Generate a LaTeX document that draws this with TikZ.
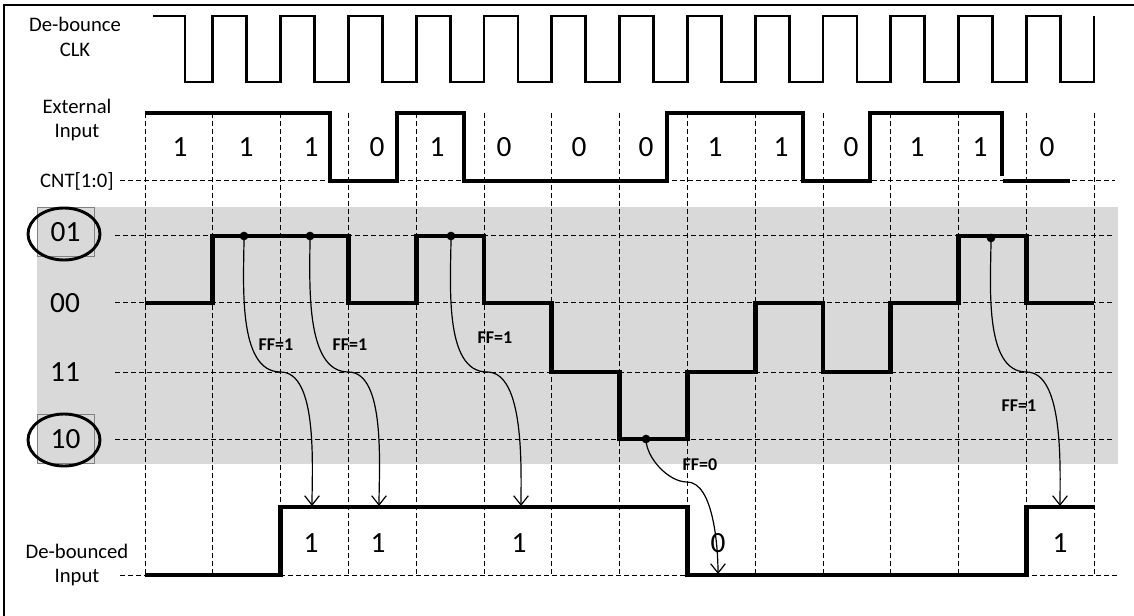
\documentclass[tikz,border=0pt]{standalone}
\usepackage{fontspec}
\setmainfont{Carlito}
\usetikzlibrary{arrows.meta}
\definecolor{bandgray}{HTML}{D9D9D9}
\begin{document}
\begin{tikzpicture}[x=0.75pt,y=-0.75pt,
        clk/.style = {line width=2.2pt},
        wave/.style = {line width=3.6pt},
        gridline/.style = {line width=0.75pt,dash pattern=on 3.5pt off 2.5pt},
        ffarrow/.style = {line width=0.9pt,-{Straight Barb[length=7pt,width=11pt]}},
        dot/.style = {circle,fill,inner sep=0pt,minimum size=6.5pt},
        lbl/.style = {font=\fontsize{15.5}{18.5}\selectfont,align=center},
        bit/.style = {font=\fontsize{22}{26}\selectfont},
        ff/.style = {font=\fontsize{13.5}{16}\selectfont\bfseries,inner sep=0pt},
        lvlbox/.style = {bit,draw=gray,line width=0.6pt,minimum width=42.75pt,minimum height=36.75pt},
        ring/.style = {line width=2.2pt}]
    \useasboundingbox (0,0) rectangle (1134,616);

    \fill[bandgray] (37,207) rectangle (1118,464);
    \draw[line width=1pt] (4,5) rectangle (1140,622);

    \foreach \i in {0,...,14}
        \draw[gridline] ({145+67.8*\i},113) -- ({145+67.8*\i},575);
    \draw[gridline] (120,181) -- (1115,181);
    \foreach \y in {236,303,372,439}
        \draw[gridline] (115,\y) -- (1112,\y);
    \draw[gridline] (120,575) -- (1117,575);

    \draw[clk] (153,16) -- (185,16) -- (185,82)
        \foreach \i in {1,...,13} {
            -- ({145+67.8*\i},82) -- ({145+67.8*\i},16)
            -- ({179+67.8*\i},16) -- ({179+67.8*\i},82)}
        -- (1094,82) -- (1094,16);

    \draw[wave] (145,113) -- (330,113) -- (330,181) -- (397,181) -- (397,113)
        -- (464,113) -- (464,181) -- (667,181) -- (667,113) -- (803,113)
        -- (803,181) -- (870,181) -- (870,113) -- (1002,113) -- (1002,176);
    \draw[wave] (1003,181) -- (1070,181);

    \draw[wave] (145,303) -- (212.8,303) -- (212.8,236) -- (348.4,236)
        -- (348.4,303) -- (416.2,303) -- (416.2,236) -- (484,236) -- (484,303)
        -- (551.8,303) -- (551.8,372) -- (619.6,372) -- (619.6,439)
        -- (687.4,439) -- (687.4,372) -- (755.2,372) -- (755.2,303) -- (823,303)
        -- (823,372) -- (890.8,372) -- (890.8,303) -- (958.6,303) -- (958.6,236)
        -- (1026.4,236) -- (1026.4,303) -- (1094.2,303);

    \draw[wave] (145,575) -- (280.6,575) -- (280.6,507) -- (687.4,507)
        -- (687.4,575) -- (1026.4,575) -- (1026.4,507) -- (1094.2,507);

    \node[dot] (d1) at (244,236) {};
    \node[dot] (d2) at (310,236) {};
    \node[dot] (d3) at (451,236) {};
    \node[dot] (d4) at (646,439) {};
    \node[dot] (d5) at (991,238) {};

    \coordinate (m1) at (280.6,372);
    \coordinate (m2) at (348.4,372);
    \coordinate (m3) at (487,372);
    \coordinate (m4) at (687,482);
    \coordinate (m5) at (1026.4,372);
    \coordinate (t1) at (312,506);
    \coordinate (t2) at (379,506);
    \coordinate (t3) at (521,506);
    \coordinate (t4) at (718,574);
    \coordinate (t5) at (1060,506);

    \foreach \k in {1,...,5}
        \draw[ffarrow] (d\k.center) to[out=-90,in=180,looseness=0.8] (m\k)
            to[out=0,in=90,looseness=0.7] (t\k);

    \node[ff] (ff1) at (276,345) {FF=1};
    \node[ff] (ff2) at (350,345) {FF=1};
    \node[ff] (ff3) at (495,338) {FF=1};
    \node[ff] (ff4) at (700,465) {FF=0};
    \node[ff] (ff5) at (1019,406) {FF=1};

    \node[lbl] (clklbl) at (75,37) {De-bounce\\CLK};
    \node[lbl] (inlbl) at (77,120) {External\\Input};
    \node[lbl] (cntlbl) at (77,181) {CNT[1:0]};
    \node[lbl] (outlbl) at (77,565) {De-bounced\\Input};

    \node[lvlbox] (c01) at (65.5,232) {01};
    \draw[ring] (64,234) ellipse [x radius=36,y radius=26];
    \node[bit] (c00) at (65,303) {00};
    \node[bit] (c11) at (65,372) {11};
    \node[lvlbox] (c10) at (65.5,439) {10};
    \draw[ring] (64,440) ellipse [x radius=36,y radius=26];

    \foreach \x/\v [count=\k] in {180/1,246/1,311/1,377/0,437/1,504/0,579/0,
            646/0,715/1,781/1,851/0,917/1,980/1,1047/0}
        \node[bit] (in\k) at (\x,147) {\v};

    \foreach \x/\v [count=\k] in {311/1,378/1,519/1,718/0,1060/1}
        \node[bit] (out\k) at (\x,543) {\v};
\end{tikzpicture}
\end{document}
